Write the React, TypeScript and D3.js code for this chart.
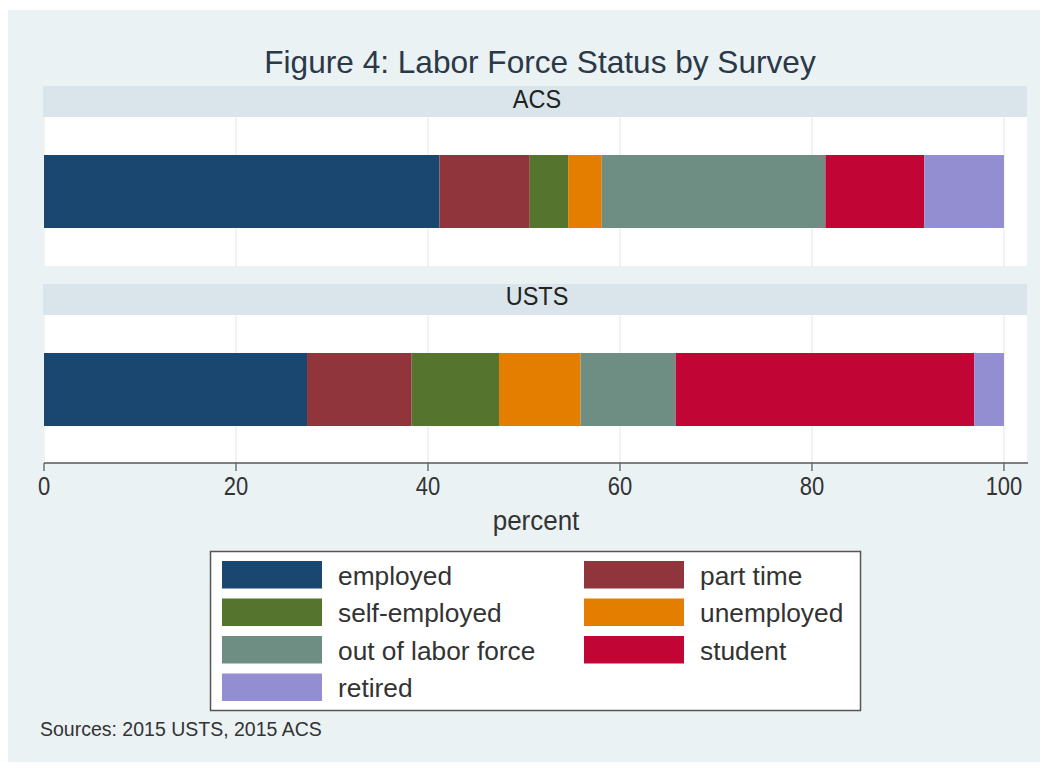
import React from "react";
import * as d3 from "d3";

const surveys = ["ACS", "USTS"];
const categories = [
  "employed",
  "part time",
  "self-employed",
  "unemployed",
  "out of labor force",
  "student",
  "retired",
];
const acsValues = [41.2, 9.4, 4.0, 3.5, 23.3, 10.3, 8.3];
const ustsValues = [27.4, 10.9, 9.1, 8.5, 9.9, 31.1, 3.1];
const colors = ["#1a476f", "#90353b", "#55752f", "#e37e00", "#6e8e84", "#c10534", "#938dd2"];
const xTicks = [0, 20, 40, 60, 80, 100];
const titleText = "Figure 4: Labor Force Status by Survey";
const xAxisTitle = "percent";
const noteText = "Sources: 2015 USTS, 2015 ACS";

const FONT = "'Liberation Sans', Arial, Helvetica, sans-serif";

export default function App() {
  const W = 1048;
  const H = 771;
  const rows = surveys.map((s, i) => {
    const vals = i === 0 ? acsValues : ustsValues;
    const o: any = { survey: s };
    categories.forEach((c, j) => (o[c] = vals[j]));
    return o;
  });
  const stacked = d3.stack().keys(categories)(rows as any);

  const x = d3.scaleLinear().domain([0, 102.4]).range([44, 1027]);
  const panel = d3.scaleBand().domain(surveys).range([86, 464]).paddingInner(0.0909);
  const stripH = 31;
  const color = d3.scaleOrdinal<string, string>().domain(categories).range(colors);

  const axisY = 463;
  const legendX = 210.5;
  const legendY = 551.5;
  const legendW = 650;
  const legendH = 159;
  const colX = [222, 584];
  const rowStep = 37.5;

  return (
    <svg
      width={W}
      height={H}
      style={{ position: "absolute", left: 0, top: 0, background: "#ffffff" }}
      fontFamily={FONT}
    >
      <rect x={8} y={10} width={1032} height={752} fill="#eaf2f3" />
      <text x={540} y={73} textAnchor="middle" fontSize={31.6} fill="#2b3848">
        {titleText}
      </text>

      {surveys.map((s, i) => {
        const top = panel(s)!;
        const bh = panel.bandwidth();
        const plotTop = top + stripH;
        const plotBottom = top + bh;
        const plotH = plotBottom - plotTop;
        const barH = plotH * 0.49;
        const barY = plotTop + (plotH - barH) / 2;
        return (
          <g key={s}>
            <rect x={43} y={top} width={984} height={stripH} fill="#d9e5eb" />
            <text
              transform={`translate(${(43 + 1027) / 2 + 2},${top + 21.5}) scale(1,1.1)`}
              textAnchor="middle"
              fontSize={23.5}
              fill="#222"
            >
              {s}
            </text>
            <rect x={43} y={plotTop} width={984} height={plotH} fill="#ffffff" />
            {xTicks.map((t) => (
              <line
                key={t}
                x1={x(t)}
                x2={x(t)}
                y1={plotTop}
                y2={plotBottom}
                stroke="#e4ecef"
                strokeWidth={1.2}
              />
            ))}
            {stacked.map((layer) => {
              const d = layer[i];
              return (
                <rect
                  key={layer.key}
                  x={x(d[0])}
                  y={barY}
                  width={x(d[1]) - x(d[0])}
                  height={barH}
                  fill={color(layer.key)}
                />
              );
            })}
          </g>
        );
      })}

      <line x1={44} x2={1028} y1={axisY} y2={axisY} stroke="#555" strokeWidth={1.5} />
      {xTicks.map((t) => (
        <g key={t}>
          <line x1={x(t)} x2={x(t)} y1={axisY} y2={axisY + 8} stroke="#555" strokeWidth={1.2} />
          <text
            transform={`translate(${x(t)},495) scale(1,1.2)`}
            textAnchor="middle"
            fontSize={22}
            fill="#333"
          >
            {t}
          </text>
        </g>
      ))}
      <text
        transform="translate(536,530) scale(1,1.05)"
        textAnchor="middle"
        fontSize={26}
        fill="#333"
      >
        {xAxisTitle}
      </text>

      <rect
        x={legendX}
        y={legendY}
        width={legendW}
        height={legendH}
        fill="#ffffff"
        stroke="#555"
        strokeWidth={1.5}
      />
      {categories.map((c, j) => {
        const col = j % 2;
        const row = Math.floor(j / 2);
        const sy = 561 + row * rowStep;
        return (
          <g key={c}>
            <rect x={colX[col]} y={sy} width={100} height={27.5} fill={color(c)} />
            <text x={colX[col] + 116} y={sy + 23.5} fontSize={26.3} fill="#333">
              {c}
            </text>
          </g>
        );
      })}

      <text x={40} y={736} fontSize={19.5} fill="#333">
        {noteText}
      </text>
    </svg>
  );
}
